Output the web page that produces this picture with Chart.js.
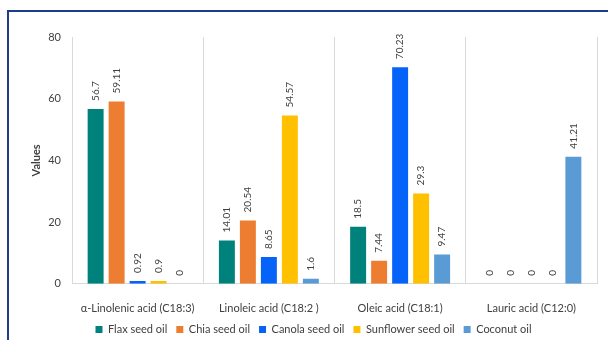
<!DOCTYPE html>
<html>
<head>
<meta charset="utf-8">
<script src="https://cdn.jsdelivr.net/npm/chart.js@4"></script>
<style>
  html, body { margin: 0; padding: 0; background: #fff; overflow: hidden; }
  #wrap { position: relative; width: 608px; height: 340px; }
  #frame {
    position: absolute; left: 7px; top: 10px; width: 700px; height: 400px;
    border: 2px solid #1f3c8a; pointer-events: none;
  }
</style>
</head>
<body>
<div id="wrap">
  <canvas id="chart" width="608" height="340"></canvas>
  <div id="frame"></div>
</div>
<script>
/* ── Data ─────────────────────────────────────────── */
const categories = ["α-Linolenic acid (C18:3)", "Linoleic acid (C18:2 )", "Oleic acid (C18:1)", "Lauric acid (C12:0)"];
const flaxSeed      = [56.7, 14.01, 18.5, 0];
const chiaSeed      = [59.11, 20.54, 7.44, 0];
const canolaSeed    = [0.92, 8.65, 70.23, 0];
const sunflowerSeed = [0.9, 54.57, 29.3, 0];
const coconut       = [0, 1.6, 9.47, 41.21];
const yTicks        = [0, 20, 40, 60, 80];

const FONT = "Lato, 'Liberation Sans', sans-serif";
const TEXT = "#404040";

/* ── Rotated value labels above each bar ──────────── */
const valueLabels = {
  id: "valueLabels",
  afterDatasetsDraw(chart) {
    const ctx = chart.ctx;
    ctx.save();
    ctx.font = "10px " + FONT;
    ctx.fillStyle = TEXT;
    ctx.textAlign = "left";
    ctx.textBaseline = "middle";
    chart.data.datasets.forEach((ds, i) => {
      chart.getDatasetMeta(i).data.forEach((bar, j) => {
        ctx.save();
        ctx.translate(bar.x, bar.y - 8);
        ctx.rotate(-Math.PI / 2);
        ctx.fillText(String(ds.data[j]), 0, 0);
        ctx.restore();
      });
    });
    ctx.restore();
  }
};

function series(label, data, color) {
  return { label, data, backgroundColor: color, borderWidth: 0,
           categoryPercentage: 0.8, barPercentage: 0.76 };
}

new Chart(document.getElementById("chart"), {
  type: "bar",
  data: {
    labels: categories,
    datasets: [
      series("Flax seed oil", flaxSeed, "#00827c"),
      series("Chia seed oil", chiaSeed, "#ed7d31"),
      series("Canola seed oil", canolaSeed, "#0563fa"),
      series("Sunflower seed oil", sunflowerSeed, "#ffc000"),
      series("Coconut oil", coconut, "#5b9bd5"),
    ]
  },
  plugins: [valueLabels],
  options: {
    responsive: false,
    animation: false,
    layout: { padding: { left: 30, top: 37, right: 11, bottom: -5 } },
    plugins: {
      tooltip: { enabled: false },
      legend: {
        position: "bottom",
        labels: {
          boxWidth: 7, boxHeight: 7, padding: 9,
          color: TEXT, font: { family: FONT, size: 11 }
        }
      }
    },
    scales: {
      x: {
        afterFit: s => { s.height = s.height - 18; },
        grid: { color: "#d9d9d9", drawTicks: false, offset: true },
        border: { color: "#d9d9d9" },
        ticks: { color: TEXT, padding: 18, font: { family: FONT, size: 11 } }
      },
      y: {
        min: 0, max: 80,
        afterBuildTicks: s => { s.ticks = yTicks.map(v => ({ value: v })); },
        afterFit: s => { s.width = 42; },
        grid: { display: false, drawTicks: false },
        border: { display: false },
        ticks: { color: TEXT, padding: 11, font: { family: FONT, size: 11 } },
        title: { display: true, text: "Values", color: TEXT, padding: 0,
                 font: { family: FONT, size: 11, weight: "bold" } }
      }
    }
  }
});
</script>
</body>
</html>
